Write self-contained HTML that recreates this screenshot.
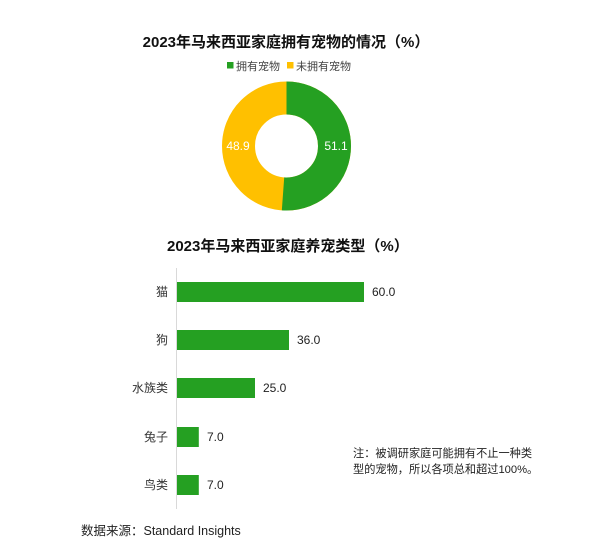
<!DOCTYPE html>
<html><head><meta charset="utf-8"><style>
html,body{margin:0;padding:0;background:#fff;}
svg{display:block;}
text{font-family:"Liberation Sans","Noto Sans CJK SC",sans-serif;}
</style></head><body>
<svg width="600" height="550" viewBox="0 0 600 550" xmlns="http://www.w3.org/2000/svg">
<rect width="600" height="550" fill="#fff"/>
<text x="286" y="47" font-size="15" font-weight="bold" text-anchor="middle" fill="#111">2023年马来西亚家庭拥有宠物的情况（%）</text>
<rect x="227" y="62" width="6.5" height="6.5" fill="#25a022"/>
<text x="236" y="70" font-size="11" fill="#444">拥有宠物</text>
<rect x="287" y="62" width="6.5" height="6.5" fill="#ffc000"/>
<text x="296" y="70" font-size="11" fill="#444">未拥有宠物</text>
<circle cx="286.5" cy="146" r="48" fill="none" stroke="#ffc000" stroke-width="33"/>
<circle cx="286.5" cy="146" r="48" fill="none" stroke="#25a022" stroke-width="33" stroke-dasharray="154.1 400" transform="rotate(-90 286.5 146)"/>
<text x="238" y="150" font-size="12" fill="#fff" text-anchor="middle">48.9</text>
<text x="336" y="150" font-size="12" fill="#fff" text-anchor="middle">51.1</text>
<text x="167" y="251" font-size="15" font-weight="bold" fill="#111">2023年马来西亚家庭养宠类型（%）</text>
<line x1="176.5" y1="268" x2="176.5" y2="509" stroke="#d9d9d9" stroke-width="1"/>
<g fill="#25a022">
<rect x="177" y="282" width="187" height="20"/>
<rect x="177" y="330" width="112" height="20"/>
<rect x="177" y="378" width="78" height="20"/>
<rect x="177" y="427" width="21.8" height="20"/>
<rect x="177" y="475" width="21.8" height="20"/>
</g>
<g font-size="12" fill="#333" text-anchor="end">
<text x="168" y="296">猫</text>
<text x="168" y="344">狗</text>
<text x="168" y="392">水族类</text>
<text x="168" y="441">兔子</text>
<text x="168" y="489">鸟类</text>
</g>
<g font-size="12" fill="#222">
<text x="372" y="296">60.0</text>
<text x="297" y="344">36.0</text>
<text x="263" y="392">25.0</text>
<text x="207" y="441">7.0</text>
<text x="207" y="489">7.0</text>
</g>
<text x="353" y="457" font-size="11.2" fill="#222">注：被调研家庭可能拥有不止一种类</text>
<text x="353" y="473" font-size="11.2" fill="#222">型的宠物，所以各项总和超过100%。</text>
<text x="81" y="535" font-size="12.5" fill="#222">数据来源：Standard Insights</text>
</svg>
</body></html>
